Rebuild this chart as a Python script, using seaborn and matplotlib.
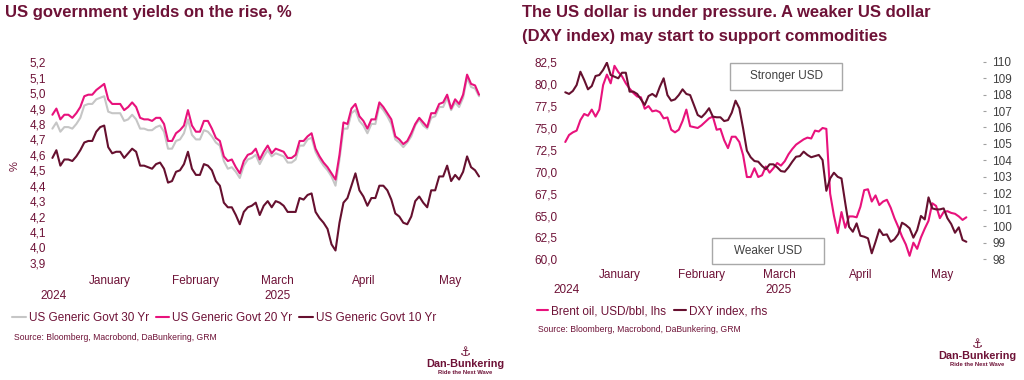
import numpy as np
import pandas as pd
import matplotlib
matplotlib.use("Agg")
import matplotlib.pyplot as plt
import seaborn as sns
from matplotlib.lines import Line2D
from matplotlib.patches import Rectangle
from matplotlib.ticker import FuncFormatter

# ---------------- data ----------------
start_date = "2024-12-27"

us30 = [4.77, 4.81, 4.75, 4.78, 4.78, 4.77, 4.80, 4.84, 4.92, 4.93, 4.93, 4.96, 4.97, 4.98,
        4.88, 4.87, 4.87, 4.87, 4.82, 4.83, 4.86, 4.83, 4.77, 4.77, 4.76, 4.76, 4.78, 4.79,
        4.75, 4.64, 4.64, 4.69, 4.70, 4.74, 4.83, 4.73, 4.70, 4.70, 4.76, 4.75, 4.72, 4.68,
        4.66, 4.56, 4.51, 4.52, 4.49, 4.45, 4.53, 4.57, 4.58, 4.60, 4.54, 4.59, 4.63, 4.59,
        4.61, 4.60, 4.59, 4.55, 4.55, 4.57, 4.66, 4.66, 4.70, 4.71, 4.62, 4.57, 4.53, 4.50,
        4.46, 4.40, 4.57, 4.77, 4.77, 4.87, 4.89, 4.82, 4.79, 4.74, 4.80, 4.80, 4.92, 4.89,
        4.85, 4.80, 4.70, 4.68, 4.65, 4.68, 4.72, 4.79, 4.83, 4.79, 4.77, 4.84, 4.85, 4.91,
        4.91, 4.97, 4.89, 4.94, 4.91, 4.97, 5.10, 5.04, 5.03, 4.98]

us20 = [4.86, 4.90, 4.83, 4.86, 4.86, 4.84, 4.87, 4.91, 4.98, 4.99, 4.99, 5.02, 5.04, 5.06,
        4.96, 4.93, 4.93, 4.93, 4.89, 4.91, 4.94, 4.91, 4.84, 4.83, 4.83, 4.82, 4.84, 4.84,
        4.80, 4.69, 4.69, 4.74, 4.76, 4.79, 4.89, 4.79, 4.75, 4.75, 4.82, 4.82, 4.77, 4.71,
        4.69, 4.59, 4.56, 4.57, 4.52, 4.48, 4.56, 4.60, 4.61, 4.64, 4.57, 4.62, 4.66, 4.61,
        4.64, 4.63, 4.62, 4.58, 4.58, 4.60, 4.69, 4.69, 4.72, 4.74, 4.64, 4.59, 4.55, 4.52,
        4.48, 4.44, 4.60, 4.81, 4.80, 4.90, 4.93, 4.85, 4.82, 4.77, 4.83, 4.83, 4.94, 4.91,
        4.87, 4.83, 4.72, 4.70, 4.67, 4.69, 4.74, 4.80, 4.84, 4.81, 4.78, 4.87, 4.87, 4.93,
        4.94, 4.99, 4.90, 4.96, 4.93, 4.99, 5.12, 5.06, 5.05, 4.99]

us10 = [4.58, 4.63, 4.53, 4.57, 4.57, 4.56, 4.59, 4.63, 4.68, 4.69, 4.69, 4.75, 4.78, 4.79,
        4.65, 4.61, 4.62, 4.62, 4.58, 4.61, 4.64, 4.62, 4.53, 4.53, 4.52, 4.51, 4.54, 4.55,
        4.51, 4.42, 4.43, 4.49, 4.50, 4.54, 4.62, 4.51, 4.47, 4.47, 4.54, 4.53, 4.50, 4.43,
        4.40, 4.29, 4.26, 4.26, 4.21, 4.15, 4.23, 4.26, 4.27, 4.29, 4.21, 4.27, 4.30, 4.26,
        4.30, 4.29, 4.27, 4.23, 4.23, 4.23, 4.32, 4.31, 4.34, 4.35, 4.23, 4.19, 4.16, 4.12,
        4.02, 3.98, 4.16, 4.29, 4.32, 4.40, 4.48, 4.37, 4.33, 4.27, 4.32, 4.32, 4.40, 4.40,
        4.37, 4.31, 4.22, 4.20, 4.16, 4.15, 4.20, 4.30, 4.33, 4.29, 4.26, 4.37, 4.37, 4.46,
        4.46, 4.53, 4.43, 4.47, 4.44, 4.49, 4.59, 4.52, 4.50, 4.46]

brent = [73.4, 74.2, 74.5, 74.7, 75.9, 76.6, 76.4, 77.1, 76.3, 77.1, 79.9, 81.1, 80.1, 82.1,
         81.4, 80.9, 80.1, 79.5, 79.0, 78.6, 78.5, 77.2, 77.5, 76.9, 77.0, 76.8, 76.1, 76.2,
         74.8, 74.5, 74.8, 75.8, 77.1, 75.2, 75.1, 75.0, 75.3, 75.7, 76.1, 76.3, 74.8, 74.9,
         73.6, 72.7, 74.0, 74.0, 73.4, 71.9, 69.4, 69.4, 70.4, 69.4, 69.6, 70.6, 69.9, 70.4,
         71.0, 70.7, 71.2, 72.0, 72.6, 73.1, 73.4, 73.7, 73.9, 73.8, 74.7, 74.6, 75.0, 74.9,
         67.5, 65.0, 63.0, 65.4, 63.6, 64.9, 64.9, 64.8, 66.0, 67.9, 68.0, 66.6, 67.3, 66.2,
         66.6, 66.8, 65.9, 64.7, 63.7, 62.6, 61.7, 60.4, 61.9, 61.2, 62.5, 63.5, 64.4, 66.4,
         66.1, 64.7, 65.4, 65.5, 65.3, 65.2, 64.9, 64.5, 64.8]

dxy = [108.14, 108.04, 108.22, 108.58, 109.39, 108.89, 108.32, 108.52, 109.13, 109.19, 109.50,
       109.94, 109.19, 109.09, 108.99, 109.33, 109.33, 108.18, 108.18, 108.04, 107.71, 107.37,
       107.91, 108.04, 107.87, 108.48, 108.99, 107.97, 107.63, 107.71, 107.97, 108.32, 108.04,
       107.97, 107.37, 106.76, 106.62, 106.86, 107.17, 106.66, 106.62, 106.62, 106.39, 106.45,
       106.90, 107.63, 107.17, 105.95, 104.59, 104.19, 103.96, 103.92, 103.66, 103.46, 103.76,
       103.76, 103.58, 103.35, 103.31, 103.58, 103.92, 104.22, 104.26, 104.53, 104.33, 104.19,
       104.26, 104.33, 104.02, 102.15, 102.90, 103.25, 103.00, 102.90, 101.40, 99.96, 99.66,
       100.17, 99.42, 99.36, 99.26, 98.35, 99.05, 99.80, 99.46, 99.50, 99.05, 99.20, 99.52,
       100.21, 100.07, 99.87, 99.30, 99.76, 100.62, 100.41, 101.75, 101.08, 101.02, 101.02,
       101.08, 100.48, 100.13, 99.60, 99.93, 99.16, 99.05]

month_labels = ["January", "February", "March", "April", "May"]
year_labels = ["2024", "2025"]
left_series = ["US Generic Govt 30 Yr", "US Generic Govt 20 Yr", "US Generic Govt 10 Yr"]
right_series = ["Brent oil, USD/bbl, lhs", "DXY index, rhs"]
left_ticks = [3.9, 4.0, 4.1, 4.2, 4.3, 4.4, 4.5, 4.6, 4.7, 4.8, 4.9, 5.0, 5.1, 5.2]
oil_ticks = [60.0, 62.5, 65.0, 67.5, 70.0, 72.5, 75.0, 77.5, 80.0, 82.5]
dxy_ticks = [98, 99, 100, 101, 102, 103, 104, 105, 106, 107, 108, 109, 110]

# ---------------- style ----------------
sns.set_theme(style="white")
plt.rcParams['font.family'] = ['Liberation Sans', 'DejaVu Sans']

MAROON = "#6e1237"
PINK = "#e8127c"
DARK = "#66102f"
GRAY = "#c6c6c6"
TXTGRAY = "#404040"
TICKGRAY = "#a0a0a0"

W, H = 1024, 380
fig = plt.figure(figsize=(W / 100, H / 100), dpi=100)


def axes_px(l, t, r, b):
    return fig.add_axes([l / W, 1 - b / H, (r - l) / W, (b - t) / H])


ax1 = axes_px(50, 62.3, 493, 269)
ax2 = axes_px(563, 61.7, 983, 263)

# ---------------- left chart ----------------
dates_l = pd.bdate_range(start_date, periods=len(us10))
df_l = pd.concat([
    pd.DataFrame({"pos": np.arange(len(v)), "date": dates_l, "value": v, "series": s})
    for s, v in zip(left_series, [us30, us20, us10])
])
sns.lineplot(data=df_l, x="pos", y="value", hue="series", hue_order=left_series,
             palette=[GRAY, PINK, DARK], linewidth=1.5, legend=False, ax=ax1)

comma1 = FuncFormatter(lambda v, p: f"{v:.1f}".replace(".", ","))


def style_time_axis(ax, dates, xmax):
    months = pd.Series(dates.month)
    bounds = [i for i in range(1, len(months)) if months[i] != months[i - 1]]
    bounds_all = bounds + [xmax]
    centers = [(bounds_all[k] + bounds_all[k + 1]) / 2 for k in range(len(bounds))]
    ax.set_xlim(-0.6, xmax)
    ax.set_xticks(bounds_all)
    ax.set_xticklabels([])
    ax.set_xticks(centers, labels=month_labels, minor=True)
    ax.tick_params(axis="x", which="major", length=2.5, width=0.8, color=TICKGRAY, direction="out")
    ax.tick_params(axis="x", which="minor", length=0, pad=4.5, labelsize=8.5, labelcolor=MAROON)
    # year labels: first point and middle of March
    mar_center = centers[2]
    for xpos, lab in zip([0.3, mar_center], year_labels):
        ax.annotate(lab, xy=(xpos, 0), xycoords=ax.get_xaxis_transform(),
                    xytext=(0, -27), textcoords="offset pixels",
                    ha="center", va="center", fontsize=8.5, color=MAROON)
    ax.set_xlabel("")


style_time_axis(ax1, dates_l, 110.5)
ax1.set_ylim(3.86, 5.2)
ax1.set_yticks(left_ticks)
ax1.yaxis.set_major_formatter(comma1)
ax1.tick_params(axis="y", which="both", length=0, pad=3, labelsize=8.5, labelcolor=MAROON)
ax1.set_ylabel("%", fontsize=8, color=MAROON)
ax1.yaxis.set_label_coords(-0.069, 0.5)
for sp in ax1.spines.values():
    sp.set_visible(False)

# ---------------- right chart ----------------
dates_r = pd.bdate_range(start_date, periods=len(brent))
df_oil = pd.DataFrame({"pos": np.arange(len(brent)), "date": dates_r, "value": brent})
df_dxy = pd.DataFrame({"pos": np.arange(len(dxy)), "date": dates_r, "value": dxy})
sns.lineplot(data=df_oil, x="pos", y="value", color=PINK, linewidth=1.5, ax=ax2)
ax2b = ax2.twinx()
sns.lineplot(data=df_dxy, x="pos", y="value", color=DARK, linewidth=1.5, ax=ax2b)

style_time_axis(ax2, dates_r, 110.4)
ax2.set_ylim(59.58, 82.57)
ax2.set_yticks(oil_ticks)
ax2.yaxis.set_major_formatter(comma1)
ax2.tick_params(axis="y", length=0, pad=4, labelsize=8.5, labelcolor=MAROON)
ax2.set_ylabel("")
ax2b.set_ylim(97.76, 110.0)
ax2b.set_yticks(dxy_ticks)
ax2b.tick_params(axis="y", length=2.5, width=0.8, color=TICKGRAY, pad=4, labelsize=8.5,
                 labelcolor=TXTGRAY)
ax2b.set_ylabel("")
for a in (ax2, ax2b):
    for sp in a.spines.values():
        sp.set_visible(False)

# annotation boxes
aw, ah = 420, 201.3


def box(x0, y0, x1, y1, text):
    r = Rectangle(((x0 - 563) / aw, 1 - (y1 - 61.7) / ah), (x1 - x0) / aw, (y1 - y0) / ah,
                  transform=ax2b.transAxes, facecolor="white", edgecolor="#a8a8a8",
                  linewidth=1.0, clip_on=False, zorder=5)
    ax2b.add_patch(r)
    ax2b.text(((x0 + x1) / 2 - 563) / aw, 1 - ((y0 + y1) / 2 - 61.7) / ah, text,
              transform=ax2b.transAxes, ha="center", va="center", fontsize=8.5,
              color=TXTGRAY, zorder=6)


box(730, 63, 842, 90, "Stronger USD")
box(712, 238, 824, 264, "Weaker USD")

# ---------------- titles ----------------
fig.text(5 / W, 1 - 13 / H, "US government yields on the rise, %", fontsize=12,
         fontweight="bold", color=MAROON, va="center", ha="left")
fig.text(522 / W, 1 - 13 / H, "The US dollar is under pressure. A weaker US dollar",
         fontsize=12, fontweight="bold", color=MAROON, va="center", ha="left")
fig.text(522 / W, 1 - 36 / H, "(DXY index) may start to support commodities",
         fontsize=12, fontweight="bold", color=MAROON, va="center", ha="left")

# ---------------- legends ----------------
hl = [Line2D([], [], color=c, lw=1.5) for c in [GRAY, PINK, DARK]]
fig.legend(hl, left_series, loc="center left", bbox_to_anchor=(12 / W, 1 - 318 / H),
           ncol=3, frameon=False, fontsize=8.5, handlelength=1.15, handletextpad=0.25,
           columnspacing=0.6, borderpad=0, borderaxespad=0, labelcolor=MAROON)
hr = [Line2D([], [], color=c, lw=1.5) for c in [PINK, DARK]]
fig.legend(hr, right_series, loc="center left", bbox_to_anchor=(537 / W, 1 - 311 / H),
           ncol=2, frameon=False, fontsize=8.5, handlelength=0.95, handletextpad=0.25,
           columnspacing=0.7, borderpad=0, borderaxespad=0, labelcolor=MAROON)

# ---------------- sources ----------------
src = "Source: Bloomberg, Macrobond, DaBunkering, GRM"
fig.text(14 / W, 1 - 337 / H, src, fontsize=6.2, color=MAROON, va="center", ha="left")
fig.text(538 / W, 1 - 330 / H, src, fontsize=6.2, color=MAROON, va="center", ha="left")

# ---------------- logos ----------------
for cx, cy in [(465, 352), (977, 344)]:
    fig.text(cx / W, 1 - cy / H, "\u2693", family="DejaVu Sans", fontsize=9,
             fontweight="bold", color=MAROON, ha="center", va="center")
    fig.text(cx / W, 1 - (cy + 12) / H, "Dan-Bunkering", fontsize=7.8, fontweight="bold",
             color=MAROON, ha="center", va="center")
    fig.text(cx / W, 1 - (cy + 21) / H, "Ride the Next Wave", fontsize=4.2,
             fontweight="bold", color=MAROON, ha="center", va="center")

fig.savefig("out.png", dpi=100)
